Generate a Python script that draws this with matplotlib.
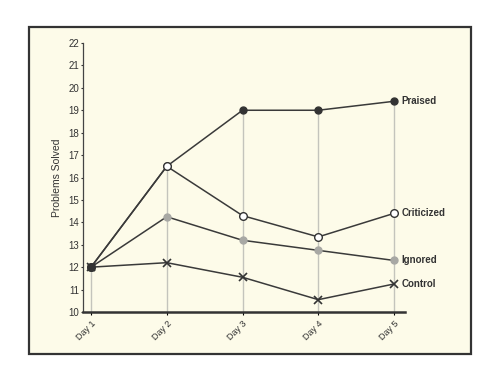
import matplotlib
matplotlib.use("Agg")
import matplotlib.pyplot as plt
from matplotlib.patches import Rectangle
import numpy as np

days = ["Day 1", "Day 2", "Day 3", "Day 4", "Day 5"]
praised = [12, 16.5, 19, 19, 19.4]
criticized = [12, 16.5, 14.3, 13.35, 14.4]
ignored = [12, 14.25, 13.2, 12.75, 12.3]
control = [12, 12.2, 11.55, 10.55, 11.25]
names = ["Praised", "Criticized", "Ignored", "Control"]

plt.rcParams['font.family'] = ['Liberation Sans', 'DejaVu Sans']

fig = plt.figure(figsize=(5, 3.86), dpi=100)
fig.patch.set_facecolor('white')

# cream page with dark border, kept behind the axes
page = Rectangle((29/500, 1 - 354/386), 442/500, 327/386,
                 transform=fig.transFigure, facecolor='#fdfbe9',
                 edgecolor='#333333', linewidth=1.6, zorder=-10)
fig.add_artist(page)

ax = fig.add_axes([83/500, 1 - 312/386, 322/500, 269/386])
ax.set_facecolor('none')
ax.set_zorder(5)

x = np.arange(len(days))
series = [praised, criticized, ignored, control]
tops = np.max(np.array(series), axis=0)
ax.vlines(x, 10, tops, color='#c4c4bc', linewidth=1.0, zorder=1)

line_kw = dict(color='#3a3a3a', linewidth=1.1, zorder=2)
ax.plot(x, ignored, marker='o', markersize=5, markerfacecolor='#a8a8a4',
        markeredgecolor='#a8a8a4', **line_kw)
ax.plot(x, control, marker='x', markersize=5.5, markeredgewidth=1.2,
        markeredgecolor='#333333', **line_kw)
ax.plot(x, praised, marker='o', markersize=5, markerfacecolor='#333333',
        markeredgecolor='#333333', **line_kw)
ax.plot(x, criticized, marker='o', markersize=5.5, markerfacecolor='white',
        markeredgecolor='#333333', markeredgewidth=1.0, **line_kw)
ax.plot([0], [12], marker='s', markersize=5, color='#333333', zorder=3)

for name, vals in zip(names, series):
    ax.text(x[-1] + 0.1, vals[-1], name, fontsize=7, fontweight='bold',
            color='#333333', va='center', ha='left')

ax.set_xlim(-0.106, 4.145)
ax.set_ylim(10, 22)
ax.set_yticks(range(10, 23))
ax.set_xticks(x)
ax.set_xticklabels(days, rotation=45, ha='right', rotation_mode='anchor',
                   fontsize=6.5, color='#333333')
ax.tick_params(axis='y', labelsize=7, colors='#333333', length=1.5, pad=1.5)
ax.tick_params(axis='x', length=2, pad=3)
ax.set_ylabel("Problems Solved", fontsize=7.5, color='#333333', labelpad=4)

for s in ['top', 'right']:
    ax.spines[s].set_visible(False)
ax.spines['left'].set_color('#444444')
ax.spines['left'].set_linewidth(0.9)
ax.spines['bottom'].set_color('#333333')
ax.spines['bottom'].set_linewidth(1.8)

fig.savefig("out.png", dpi=100)
